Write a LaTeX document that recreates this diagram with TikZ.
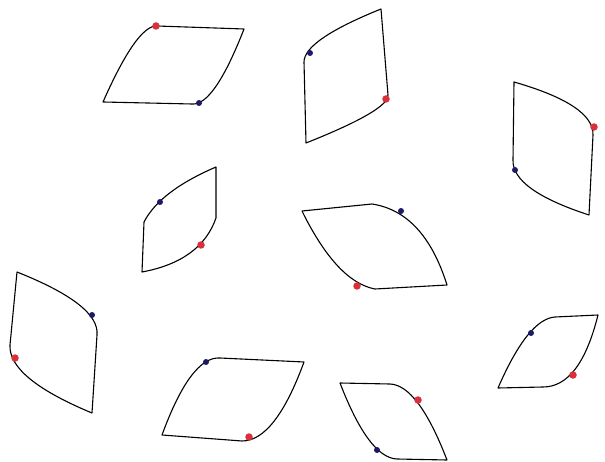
\documentclass[tikz,border=0pt]{standalone}
\usepackage{tikz}
\definecolor{cR}{HTML}{D9303A}
\definecolor{cB}{HTML}{1C1A66}
\tikzset{
  leaf/.style={draw=black,line width=1.1pt,line join=round},
  rdot/.style={circle,fill=cR,inner sep=0pt,minimum size=7.5pt},
  bdot/.style={circle,fill=cB,inner sep=0pt,minimum size=6pt},
}

\begin{document}
\begin{tikzpicture}[x=1pt,y=-1pt]
  \useasboundingbox (0,0) rectangle (605,462);
  \draw[leaf] (244,29) -- (157,26) .. controls (143.7,25.3) and (125.7,50.7) .. (103,102)
    -- (192,104) .. controls (206.7,105.3) and (224,80.3) .. cycle;
  \draw[leaf] (381,9) -- (388,95) .. controls (388.7,105) and (361.3,121) .. (306,143)
    -- (304,62) .. controls (304,47.3) and (329.7,29.7) .. cycle;
  \draw[leaf] (514,82) -- (513,160) .. controls (512.3,180) and (537.7,198.3) .. (589,215)
    -- (593,135) .. controls (593.7,115) and (567.3,97.3) .. cycle;
  \draw[leaf] (216,167) -- (216,218) .. controls (206,246.7) and (181.3,264.7) .. (142,272)
    -- (144,222) .. controls (154.7,201.3) and (178.7,183) .. cycle;
  \draw[leaf] (302,211) -- (372,204) .. controls (406.7,209.3) and (431.7,236.3) .. (447,285)
    -- (375,289) .. controls (349.7,284.3) and (325.3,258.3) .. cycle;
  \draw[leaf] (17,272) -- (10,345) .. controls (8.7,367) and (36,389.7) .. (92,413)
    -- (97,335) .. controls (99,315) and (72.3,294) .. cycle;
  \draw[leaf] (304,362) -- (220,358) .. controls (200.7,356.7) and (181.3,382.3) .. (162,435)
    -- (242,441) .. controls (264,441) and (284.7,414.7) .. cycle;
  \draw[leaf] (340,383) -- (390,384) .. controls (408.7,384.7) and (427.7,410) .. (447,460)
    -- (397,459) .. controls (378.3,458.3) and (359.3,433) .. cycle;
  \draw[leaf] (598,315) -- (555,317) .. controls (537,318.3) and (518,342) .. (498,388)
    -- (543,387) .. controls (567.7,387) and (586,363) .. cycle;

  \node[rdot](r1) at (156,26){};
  \node[bdot](b1) at (199,103){};
  \node[rdot](r2) at (386,99){};
  \node[bdot](b2) at (310,53){};
  \node[rdot](r3) at (594,127){};
  \node[bdot](b3) at (515,170){};
  \node[rdot](r4) at (201,245){};
  \node[bdot](b4) at (160,202){};
  \node[rdot](r5) at (357,286){};
  \node[bdot](b5) at (401,211){};
  \node[rdot](r6) at (15,358){};
  \node[bdot](b6) at (92,315){};
  \node[rdot](r7) at (249,437){};
  \node[bdot](b7) at (206,362){};
  \node[rdot](r8) at (418,400){};
  \node[bdot](b8) at (377,450){};
  \node[rdot](r9) at (573,375){};
  \node[bdot](b9) at (531,333){};
\end{tikzpicture}
\end{document}
